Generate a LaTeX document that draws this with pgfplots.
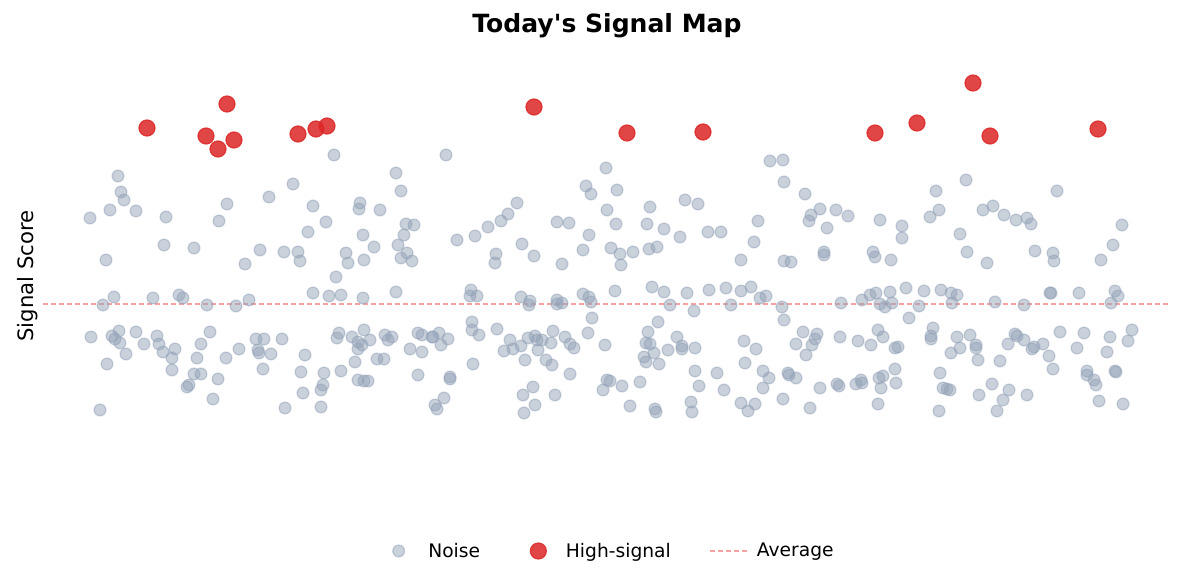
\documentclass[border=0pt]{standalone}
\usepackage{pgfplots}
\pgfplotsset{compat=1.18}
\usepackage{fontspec}
\setmainfont{DejaVu Sans}
\definecolor{noise}{HTML}{94A3B8}
\definecolor{hi}{HTML}{DC2626}
\definecolor{avg}{HTML}{EF4444}
\pgfplotsset{
  noiseleg/.style={legend image code/.code={\draw[##1] plot coordinates {(0pt,0pt)}; \path (-15pt,0pt) (22pt,0pt);}},
  hileg/.style={legend image code/.code={\draw[##1] plot coordinates {(0pt,0pt)}; \path (-15pt,0pt) (20.5pt,0pt);}},
  avgleg/.style={legend image code/.code={\draw[##1] (0pt,0pt) -- (28pt,0pt); \path (35pt,0pt);}},
}
\begin{document}
\begin{tikzpicture}
\begin{axis}[
  scale only axis, width=888.75pt, height=438pt,
  xmin=0, xmax=1185, ymin=0, ymax=584, y dir=reverse,
  hide axis, clip=false,
  legend style={at={(axis cs:606,551)}, anchor=center, draw=none, fill=none,
    legend columns=3, font=\fontsize{14}{16}\selectfont,
    /tikz/every even column/.append style={column sep=28.5pt},
    cells={anchor=west}, nodes={inner sep=0pt}},
]
\path (axis cs:0,0) rectangle (axis cs:1185,584);
% average line (behind points)
\addplot[avg, opacity=0.5, line width=1.1pt, dash pattern=on 4pt off 2pt, forget plot]
  coordinates {(43,304) (1170,304)};
% noise points
\addplot[only marks, mark=*, mark size=4.4pt,
  mark options={fill=noise, draw=noise, line width=1pt, opacity=0.5}, noiseleg]
coordinates {
(118,176)(121,192)(124,200)(110,210)(136,211)(90,218)(166,217)(227,204)(219,221)(164,245)
(194,248)(106,260)(245,264)(114,297)(103,305)(153,298)(179,295)(183,298)(207,305)(236,306)
(249,300)(91,337)(112,336)(119,331)(115,339)(120,343)(126,354)(136,332)(144,344)(157,336)
(159,344)(163,352)(175,349)(172,358)(172,370)(197,358)(201,344)(210,332)(226,358)(239,349)
(107,364)(194,374)(201,374)(218,379)(187,387)(189,385)(213,399)(100,410)
(334,155)(293,184)(269,197)(396,173)(401,191)(313,206)(360,203)(359,209)(380,210)(326,222)
(308,232)(406,224)(414,225)(404,235)(363,235)(398,245)(374,247)(407,253)(401,258)(412,261)
(260,250)(284,252)(298,252)(300,261)(346,253)(348,263)(364,260)(336,277)(313,293)(329,296)
(341,295)(363,298)(396,292)
(256,339)(264,339)(258,350)(259,353)(271,354)(263,369)
(282,339)(305,355)(337,338)(339,333)(352,337)(364,330)(358,342)(362,345)(358,349)(370,340)
(385,335)(388,340)(392,337)(418,333)(422,335)(432,337)(410,349)(422,352)(377,359)(384,359)
(355,362)(301,372)(324,373)(341,371)(323,385)(321,390)(303,393)(358,380)(364,381)(368,381)
(418,375)(285,408)(321,407)
(435,405)(437,409)(444,398)
(446,155)(606,168)(586,186)(591,194)(517,203)(508,214)(501,221)(488,227)(475,236)(457,240)
(557,222)(569,223)(607,210)(589,235)(583,250)(522,244)(534,256)(496,254)(495,263)(562,264)
(611,248)
(471,290)(470,296)(477,296)(521,297)(530,301)(529,305)(557,300)(562,303)(557,304)(583,294)
(589,297)(591,302)(592,318)(615,291)
(433,337)(439,333)(441,345)(448,339)(472,322)(472,330)(479,335)(497,329)(510,340)(504,351)
(513,349)(521,346)(528,338)(535,336)(537,340)(542,340)(538,350)(551,343)(553,331)(565,337)
(570,344)(574,348)(588,333)(605,345)(525,360)(546,360)(552,365)(473,364)(450,377)(450,379)
(570,374)(533,387)(523,395)(555,395)(535,405)(524,413)(607,380)(610,381)(603,390)
(770,161)(783,160)(784,182)(617,190)(650,207)(685,200)(698,204)(616,224)(647,224)(664,229)
(680,237)(708,232)(721,232)(758,221)(754,242)(741,260)(784,261)(791,262)(620,254)(621,265)
(633,252)(649,249)(657,247)
(652,287)(664,292)(670,305)(687,293)(694,311)(709,290)(726,288)(741,291)(751,287)(760,298)
(766,296)(731,305)(782,307)(784,320)
(658,322)(648,332)(646,343)(650,344)(654,353)(644,357)(646,362)(659,364)(668,350)(677,337)
(682,346)(682,349)(695,348)(744,341)(756,349)(745,363)(695,371)(717,373)(763,371)(769,378)
(763,388)(788,373)(789,375)(796,378)
(622,386)(640,382)(699,386)(724,390)(783,399)(630,406)(655,409)(656,412)(691,402)(692,412)
(741,403)(748,411)(755,404)
(805,194)(820,209)(811,215)(809,221)(836,210)(848,216)(827,228)(880,220)(902,226)(902,238)
(936,191)(939,210)(930,217)(960,234)
(824,252)(824,255)(873,252)(875,257)(891,260)
(841,303)(862,300)(870,295)(876,293)(890,292)(880,304)(885,307)(892,303)(906,288)(924,291)
(919,306)(909,318)(941,290)(951,293)(957,295)(952,303)
(803,332)(817,334)(815,339)(812,345)(796,344)(806,355)(840,337)(858,341)(871,345)(878,330)
(883,337)(895,348)(898,347)(933,328)(931,336)(931,339)(957,337)(951,353)
(820,388)(837,384)(839,386)(856,384)(861,380)(862,383)(879,378)(883,376)(881,388)(895,369)
(896,383)(940,373)(943,388)(947,389)(950,390)(810,408)(878,404)(939,411)
(966,180)(1057,191)(993,206)(983,210)(1004,215)(1016,220)(1027,218)(1031,224)(1122,225)(967,252)
(987,263)(1035,251)(1053,253)(1054,261)(1113,245)(1101,260)
(995,302)(1024,305)(1050,293)(1051,293)(1079,293)(1115,291)(1118,296)(1111,303)
(960,348)(970,335)(976,345)(976,348)(978,360)(1000,361)(1008,344)(1015,334)(1017,336)(1024,340)
(1032,349)(1034,347)(1043,344)(1049,356)(1053,369)(1060,332)(1077,348)(1084,333)(1107,352)(1110,337)
(1128,341)(1132,330)(1087,371)(1087,375)(1094,380)(1096,385)(1115,371)(1116,372)(992,384)(1009,390)
(1003,400)(997,411)(979,395)(1027,395)(1099,401)(1123,404)
};
\addlegendentry{Noise}
% high-signal points
\addplot[only marks, mark=*, mark size=6pt,
  mark options={fill=hi, draw=hi, line width=0.9pt, opacity=0.85}, hileg]
coordinates {
(147,128)(206,136)(218,149)(227,104)(234,140)(298,134)(316,129)(327,126)
(534,107)(627,133)(703,132)(875,133)(917,123)(973,83)(990,136)(1098,129)
};
\addlegendentry{High-signal}
\addlegendimage{avg, opacity=0.5, line width=1.1pt, dash pattern=on 4pt off 2pt, avgleg}
\addlegendentry{Average}
% title and y label
\node[anchor=base, font=\fontsize{18.8}{22}\selectfont\bfseries] at (axis cs:607,33) {Today\textquotesingle s Signal Map};
\node[anchor=base, rotate=90, font=\fontsize{15.9}{18}\selectfont] at (axis cs:33,276) {Signal Score};
\end{axis}
\end{tikzpicture}
\end{document}
